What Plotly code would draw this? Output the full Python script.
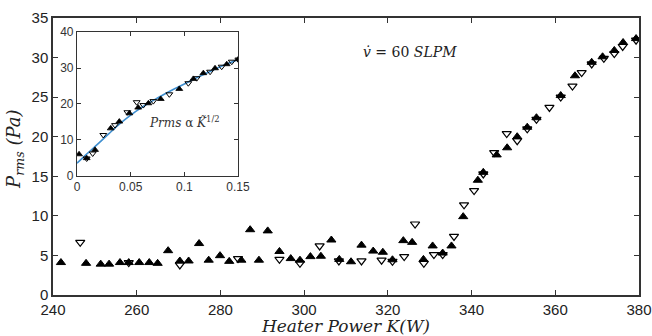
import plotly.graph_objects as go

# ---- main data (Heater power K in W, Prms in Pa) ----
up_K = [241.9, 247.9, 251.4, 253.4, 256.0, 258.1, 260.6, 263.0, 265.0, 267.5, 270.3, 272.4,
        274.9, 277.2, 279.9, 282.1, 285.0, 287.1, 289.2, 291.3, 294.1, 296.8, 299.0, 301.5,
        304.0, 306.5, 308.4, 311.2, 313.7, 316.5, 318.8, 321.1, 323.7, 325.8, 328.5, 330.7,
        333.1, 335.2, 338.0, 341.5, 342.8, 346.0, 348.5, 350.9, 353.3, 355.5, 361.3, 364.7,
        368.7, 371.3, 374.1, 376.2, 379.3]
up_P = [4.1, 4.0, 3.9, 3.9, 4.1, 4.1, 4.1, 4.1, 4.0, 5.6, 4.3, 4.3,
        6.5, 4.4, 4.97, 4.25, 4.4, 8.25, 4.4, 8.1, 5.5, 4.6, 4.4, 4.85,
        4.9, 6.95, 4.5, 4.2, 6.3, 5.55, 5.4, 4.45, 6.87, 6.65, 4.5, 6.2,
        5.3, 6.2, 9.9, 14.5, 15.5, 17.7, 18.6, 20.0, 21.2, 22.4, 25.2, 27.7,
        29.4, 30.1, 30.9, 31.9, 32.4]

down_K = [246.5, 258.1, 270.3, 284.2, 294.1, 299.0, 303.7, 308.3, 313.7, 318.5, 321.1,
          323.9, 326.5, 328.6, 331.0, 333.1, 335.8, 338.2, 340.6, 342.8, 345.4, 348.4,
          350.9, 353.3, 355.5, 358.6, 361.3, 364.1, 366.3, 368.7, 371.6, 374.1, 376.1, 379.3]
down_P = [6.65, 4.1, 3.8, 4.6, 4.5, 4.0, 6.2, 4.3, 4.3, 4.4, 4.25,
          4.85, 8.97, 4.0, 5.1, 5.1, 7.4, 11.4, 13.2, 15.3, 18.0, 20.4,
          19.5, 21.0, 22.2, 23.7, 25.0, 26.4, 28.1, 29.2, 29.9, 30.5, 31.4, 32.2]

# ---- inset data (normalised power K~, Prms) ----
in_up_K = [0.0019, 0.009, 0.0168, 0.0314, 0.0394, 0.0488, 0.057, 0.0665, 0.078, 0.0953,
           0.1084, 0.1177, 0.1286, 0.1395, 0.1503]
in_up_P = [5.97, 4.9, 7.2, 13.2, 15.1, 17.4, 19.0, 20.2, 21.4, 24.2,
           27.0, 28.6, 29.96, 31.1, 32.5]
in_down_K = [0.009, 0.0146, 0.0245, 0.0354, 0.0469, 0.0556, 0.0618, 0.0711, 0.086, 0.1037,
             0.1115, 0.124, 0.1348, 0.1442, 0.1503]
in_down_P = [4.8, 6.2, 11.35, 14.1, 17.7, 20.5, 19.7, 20.8, 22.7, 25.8,
             27.2, 29.0, 30.4, 31.8, 32.4]

fit_K = [0.0, 0.01, 0.02, 0.03, 0.04, 0.05, 0.06, 0.07, 0.08, 0.09, 0.10, 0.11, 0.12, 0.13, 0.14, 0.15]
fit_P = [3.5, 6.3, 9.0, 11.8, 14.5, 16.9, 19.0, 20.8, 22.5, 24.1, 25.6, 27.1, 28.5, 29.9, 31.2, 32.4]

main_xticks = [240, 260, 280, 300, 320, 340, 360, 380]
main_yticks = [0, 5, 10, 15, 20, 25, 30, 35]
inset_xticks = [0, 0.05, 0.1, 0.15]
inset_xticklabels = ["0", "0.05", "0.1", "0.15"]
inset_yticks = [0, 10, 20, 30, 40]

SANS = "Liberation Sans, Arial, sans-serif"
SERIF = "DejaVu Serif, Liberation Serif, serif"
AX = "#333333"

fig = go.Figure()

fig.add_trace(go.Scatter(x=up_K, y=up_P, mode="markers",
                         marker=dict(symbol="triangle-up", size=8, color="black",
                                     line=dict(color="black", width=1)),
                         showlegend=False))
fig.add_trace(go.Scatter(x=down_K, y=down_P, mode="markers",
                         marker=dict(symbol="triangle-down-open", size=8, color="black",
                                     line=dict(color="black", width=1.2)),
                         showlegend=False))

# inset
fig.add_trace(go.Scatter(x=fit_K, y=fit_P, mode="lines", xaxis="x2", yaxis="y2",
                         line=dict(color="#3f8fd0", width=1.6, shape="spline"),
                         showlegend=False))
fig.add_trace(go.Scatter(x=in_up_K, y=in_up_P, mode="markers", xaxis="x2", yaxis="y2",
                         marker=dict(symbol="triangle-up", size=6, color="black",
                                     line=dict(color="black", width=0.8)),
                         showlegend=False))
fig.add_trace(go.Scatter(x=in_down_K, y=in_down_P, mode="markers", xaxis="x2", yaxis="y2",
                         marker=dict(symbol="triangle-down-open", size=6, color="black",
                                     line=dict(color="black", width=1)),
                         showlegend=False))

fig.update_layout(
    width=652, height=336,
    margin=dict(l=53, r=13, t=18, b=41),
    paper_bgcolor="white", plot_bgcolor="white",
    xaxis=dict(range=[240, 380], tickvals=main_xticks, ticks="inside", ticklen=5,
               showline=True, mirror="ticks", linecolor=AX, linewidth=1.5, tickcolor=AX,
               showgrid=False, zeroline=False, automargin=False,
               tickfont=dict(family=SANS, size=15, color="#222"),
               title=dict(text="<i>Heater Power K(W)</i>", standoff=5,
                          font=dict(family=SERIF, size=17, color="#222"))),
    yaxis=dict(range=[0, 35], tickvals=main_yticks, ticks="inside", ticklen=5,
               showline=True, mirror="ticks", linecolor=AX, linewidth=1.5, tickcolor=AX,
               showgrid=False, zeroline=False, automargin=False,
               tickfont=dict(family=SANS, size=15, color="#222")),
    xaxis2=dict(domain=[0.041, 0.3157], anchor="y2", range=[0, 0.15],
                tickvals=inset_xticks, ticktext=inset_xticklabels,
                ticks="inside", ticklen=4, showline=True, mirror="ticks", automargin=False,
                linecolor=AX, linewidth=1.2, tickcolor=AX, showgrid=False, zeroline=False,
                tickfont=dict(family=SANS, size=12, color="#333")),
    yaxis2=dict(domain=[0.4307, 0.9484], anchor="x2", range=[0, 40], automargin=False,
                tickvals=inset_yticks, ticks="inside", ticklen=4, showline=True, mirror="ticks",
                linecolor=AX, linewidth=1.2, tickcolor=AX, showgrid=False, zeroline=False,
                tickfont=dict(family=SANS, size=12, color="#333")),
    annotations=[
        dict(x=-0.066, y=0.525, xref="paper", yref="paper", showarrow=False,
             xanchor="center", yanchor="middle", textangle=-90,
             text="<i>P<sub>rms</sub> (Pa)</i>",
             font=dict(family=SERIF, size=18, color="#222")),
        dict(x=325.3, y=30.7, xref="x", yref="y", showarrow=False,
             text="<i>v\u0307</i> = 60 <i>SLPM</i>",
             font=dict(family=SERIF, size=14, color="#222")),
        dict(x=0.1, y=15.0, xref="x2", yref="y2", showarrow=False,
             text="<i>Prms</i> \u03b1 <i>K\u0303</i><sup>1/2</sup>",
             font=dict(family=SERIF, size=12, color="#333")),
        dict(x=0.072, y=-1.5, xref="x2", yref="y2", yanchor="top", showarrow=False,
             text="<i>K\u0303</i>",
             font=dict(family=SERIF, size=13, color="#333")),
    ],
)

fig.write_html("out.html", config={"displayModeBar": False},
               post_script="document.body.style.margin='0';")
